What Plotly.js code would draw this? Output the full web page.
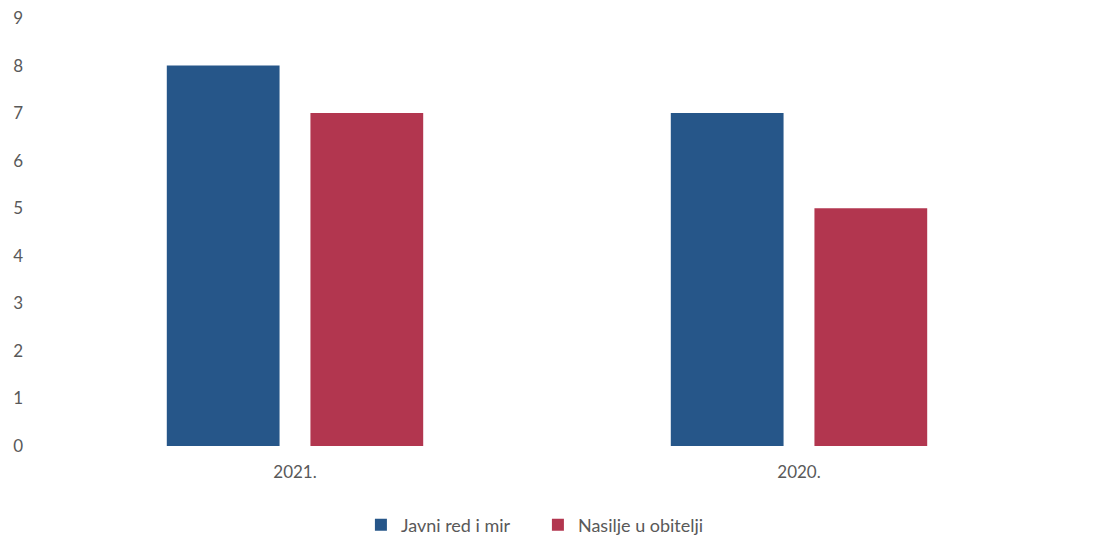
<!DOCTYPE html>
<html>
<head>
<meta charset="utf-8">
<script src="https://cdn.plot.ly/plotly-3.0.1.min.js"></script>
<style>html,body{margin:0;padding:0;background:#fff;}#chart{width:1116px;height:539px;}</style>
</head>
<body>
<div id="chart"></div>
<script>
const categories = ["2021.", "2020."];
const seriesNames = ["Javni red i mir", "Nasilje u obitelji"];
const javniRedIMir = [8, 7];
const nasiljeUObitelji = [7, 5];
const yTicks = [0, 1, 2, 3, 4, 5, 6, 7, 8, 9];

const data = [
  {type: "bar", name: seriesNames[0], x: categories, y: javniRedIMir, marker: {color: "#265689"}},
  {type: "bar", name: seriesNames[1], x: categories, y: nasiljeUObitelji, marker: {color: "#b2364f"}}
];

const layout = {
  width: 1116, height: 539,
  margin: {l: 43, r: 65, t: 18, b: 93, autoexpand: false},
  paper_bgcolor: "#fff", plot_bgcolor: "#fff",
  font: {family: "Lato, 'Noto Sans', sans-serif", size: 17, color: "#595959"},
  barmode: "group", bargap: 0.43, bargroupgap: 0.215,
  showlegend: true,
  legend: {orientation: "h", x: 0.482, xanchor: "center", xref: "container", y: 0.026, yanchor: "middle", yref: "container",
           font: {size: 18, color: "#595959"}, itemwidth: 30, tracegroupgap: 0, entrywidth: 132, entrywidthmode: "pixels"},
  xaxis: {type: "category", showgrid: false, zeroline: false, showline: false, ticks: "", ticklabelstandoff: 14},
  yaxis: {range: [0, 9], tickvals: yTicks, showgrid: false, zeroline: false, showline: false, ticks: "", ticklabelstandoff: 19, fixedrange: true}
};

Plotly.newPlot("chart", data, layout, {displayModeBar: false, staticPlot: true});
</script>
</body>
</html>
